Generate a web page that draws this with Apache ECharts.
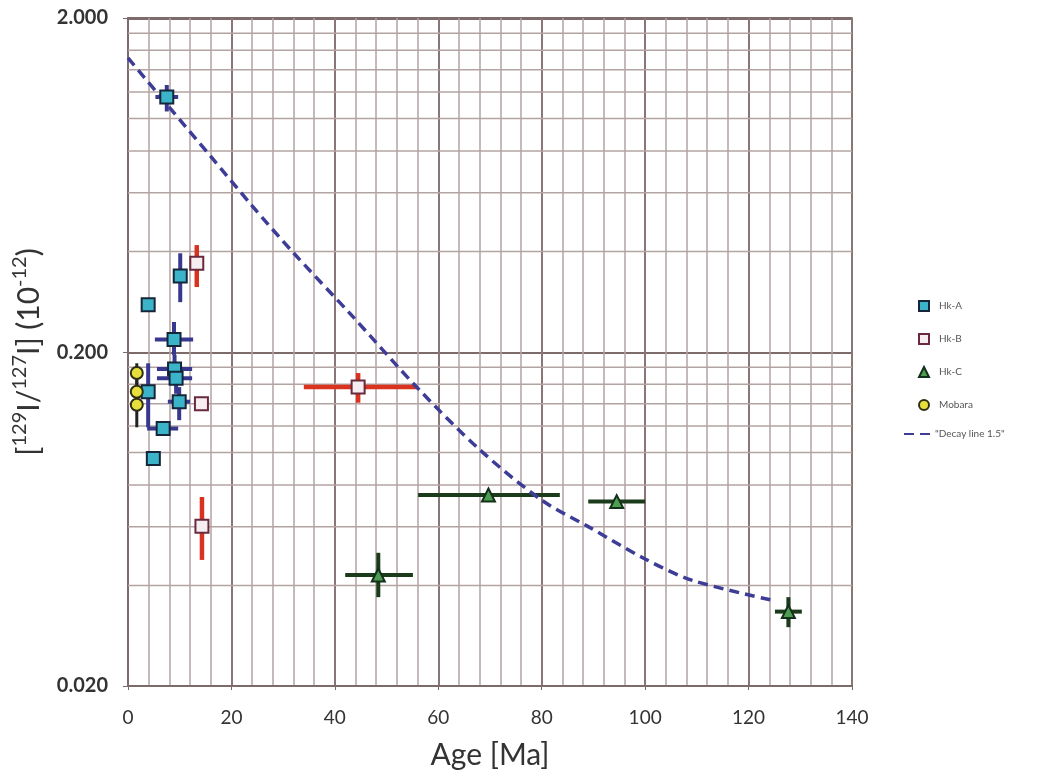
<!DOCTYPE html>
<html><head><meta charset="utf-8">
<script src="https://cdn.jsdelivr.net/npm/echarts@6/dist/echarts.min.js"></script>
<style>html,body{margin:0;padding:0;background:#fff}#c{width:1059px;height:776px}</style>
</head><body><div id="c"></div>
<script>
// each row: [age, ratio, ageMin, ageMax, ratioMin, ratioMax]
const hkA = [
  [7.5, 1.16, 5.3, 9.7, 1.05, 1.26],
  [10.1, 0.338, 8.7, 11.4, 0.282, 0.395],
  [3.9, 0.277, null, null, null, null],
  [8.9, 0.218, 5.2, 12.6, 0.196, 0.246],
  [9.0, 0.178, 5.6, 12.4, 0.165, 0.196],
  [9.3, 0.167, 5.6, 12.4, 0.150, 0.178],
  [3.9, 0.152, 3.0, 5.0, 0.119, 0.185],
  [9.9, 0.142, 7.7, 12.0, 0.125, 0.157],
  [6.8, 0.118, 3.7, 9.7, null, null],
  [4.9, 0.096, null, null, null, null]
];
const hkB = [
  [13.3, 0.369, null, null, 0.313, 0.418],
  [14.2, 0.140, null, null, null, null],
  [14.3, 0.0602, null, null, 0.0477, 0.0736],
  [44.5, 0.157, 34.0, 55.9, 0.141, 0.173]
];
const hkC = [
  [48.4, 0.043, 42.0, 55.1, 0.0369, 0.0501],
  [69.7, 0.0746, 56.1, 83.5, null, null],
  [94.5, 0.0713, 89.0, 100.0, null, null],
  [127.7, 0.0334, 125.1, 130.3, 0.030, 0.0369]
];
const mobara = [
  [1.7, 0.173, null, null, 0.160, 0.185],
  [1.7, 0.152, null, null, 0.140, 0.165],
  [1.7, 0.139, null, null, 0.119, 0.150]
];
const decayAge   = [0, 8, 16, 24, 32, 43, 56, 68, 80, 89, 100, 109, 125];
const decayRatio = [1.52, 1.08, 0.77, 0.548, 0.396, 0.26, 0.156, 0.102, 0.072, 0.060, 0.048, 0.0415, 0.036];
const yMinorLines = [0.04, 0.06, 0.08, 0.10, 0.12, 0.14, 0.16, 0.18, 0.4, 0.6, 0.8, 1.0, 1.2, 1.4, 1.6, 1.8];
const xTickLabels = [0, 20, 40, 60, 80, 100, 120, 140];
const yTickLabels = ['0.020', '0.200', '2.000'];
const legendNames = ['Hk-A', 'Hk-B', 'Hk-C', 'Mobara'];
const decayName = '"Decay line 1.5"';

const FONT = 'Lato, "Open Sans", sans-serif';
const chart = echarts.init(document.getElementById('c'));

function errSeries(name, arr, color, width) {
  return {
    name: name + ' err', type: 'custom', z: 3,
    data: arr.map(r => [r[0], r[1]]),
    encode: {x: 0, y: 1},
    silent: true,
    renderItem: function (params, api) {
      const r = arr[params.dataIndex];
      const children = [];
      const st = {stroke: color, lineWidth: width};
      if (r[2] != null) {
        const a = api.coord([r[2], r[1]]), b = api.coord([r[3], r[1]]);
        children.push({type: 'line', shape: {x1: a[0], y1: a[1], x2: b[0], y2: b[1]}, style: st});
      }
      if (r[4] != null) {
        const a = api.coord([r[0], r[4]]), b = api.coord([r[0], r[5]]);
        children.push({type: 'line', shape: {x1: a[0], y1: a[1], x2: b[0], y2: b[1]}, style: st});
      }
      return {type: 'group', children: children};
    }
  };
}
function markSeries(name, arr, symbol, size, fill, border) {
  return {
    name: name, type: 'scatter', z: 5,
    data: arr.map(r => [r[0], r[1]]),
    symbol: symbol, symbolSize: size,
    itemStyle: {color: fill, borderColor: border, borderWidth: 2, opacity: 1}
  };
}

const option = {
  backgroundColor: '#fff',
  animation: false,
  grid: {left: 128, right: 207, top: 18, bottom: 90, show: true, borderColor: '#7d6b6b', borderWidth: 1.5},
  legend: [
    {orient: 'vertical', left: 913, top: 295, itemGap: 21, itemWidth: 10, itemHeight: 10,
     data: legendNames, textStyle: {fontSize: 10, color: '#555', fontFamily: FONT, padding: [0, 0, 0, 5]}},
    {orient: 'vertical', left: 898, top: 424, itemWidth: 26, itemHeight: 10,
     itemStyle: {opacity: 0},
     data: [decayName], textStyle: {fontSize: 10, color: '#555', fontFamily: FONT}}
  ],
  xAxis: {
    type: 'value', min: 0, max: 140, interval: 20,
    name: 'Age [Ma]', nameLocation: 'middle', nameGap: 54,
    nameTextStyle: {fontSize: 30, color: '#333', fontFamily: FONT},
    axisLine: {show: true, lineStyle: {color: '#7d6b6b', width: 2}},
    axisTick: {show: true, length: 4, inside: false, lineStyle: {color: '#7d6b6b'}},
    axisLabel: {fontSize: 19, color: '#333', fontFamily: FONT, margin: 22,
      formatter: v => xTickLabels.indexOf(v) >= 0 ? String(v) : ''},
    splitLine: {show: true, lineStyle: {color: '#8a7676', width: 2}},
    minorTick: {show: false, splitNumber: 5},
    minorSplitLine: {show: true, lineStyle: {color: '#b3a3a3', width: 1.5}}
  },
  yAxis: {
    type: 'log', logBase: 10, min: 0.02, max: 2, interval: 1,
    name: '{a|[}{s|129}{a|I/}{s|127}{a|I] (10}{s|-12}{a|)}',
    nameLocation: 'middle', nameGap: 84,
    nameTextStyle: {rich: {
      a: {fontSize: 30, color: '#333', fontFamily: FONT, lineHeight: 34, verticalAlign: 'bottom'},
      s: {fontSize: 20, color: '#333', fontFamily: FONT, lineHeight: 34, verticalAlign: 'top'}
    }},
    axisLine: {show: true, lineStyle: {color: '#7d6b6b', width: 2}},
    axisTick: {show: true, length: 5, lineStyle: {color: '#7d6b6b'}},
    axisLabel: {fontSize: 20, fontWeight: 'bold', color: '#333', fontFamily: FONT, margin: 20,
      formatter: function (v) {
        const s = Number(v).toFixed(3);
        return yTickLabels.indexOf(s) >= 0 ? s : '';
      }},
    splitLine: {show: true, lineStyle: {color: '#7d6b6b', width: 2}}
  },
  series: [
    {
      name: 'ygrid', type: 'custom', z: 1, silent: true,
      data: yMinorLines.map(v => [0, v]), encode: {x: 0, y: 1},
      renderItem: function (params, api) {
        const v = yMinorLines[params.dataIndex];
        const a = api.coord([0, v]), b = api.coord([140, v]);
        return {type: 'line', shape: {x1: a[0], y1: a[1], x2: b[0], y2: b[1]},
          style: {stroke: '#b3a3a3', lineWidth: 1.5}};
      }
    },
    {
      name: decayName, type: 'line', z: 4, smooth: 0.3, showSymbol: false, symbol: 'none',
      data: decayAge.map((a, i) => [a, decayRatio[i]]),
      lineStyle: {color: '#3d3d98', width: 3.5, type: [10, 6]},
      itemStyle: {color: '#3d3d98'}
    },
    errSeries('Hk-A', hkA, '#38388e', 4),
    errSeries('Hk-B', hkB, '#d9321f', 4.5),
    errSeries('Hk-C', hkC, '#1b3b1b', 4),
    errSeries('Mobara', mobara, '#222222', 3),
    markSeries('Hk-A', hkA, 'rect', 13, '#3bb3c9', '#15263a'),
    markSeries('Hk-B', hkB, 'rect', 13, '#f7eef2', '#6a2a3c'),
    markSeries('Hk-C', hkC, 'triangle', 13, '#4f9d52', '#12301a'),
    markSeries('Mobara', mobara, 'circle', 12, '#e6df3c', '#2e2e12')
  ]
};
chart.setOption(option);
</script>
</body></html>
